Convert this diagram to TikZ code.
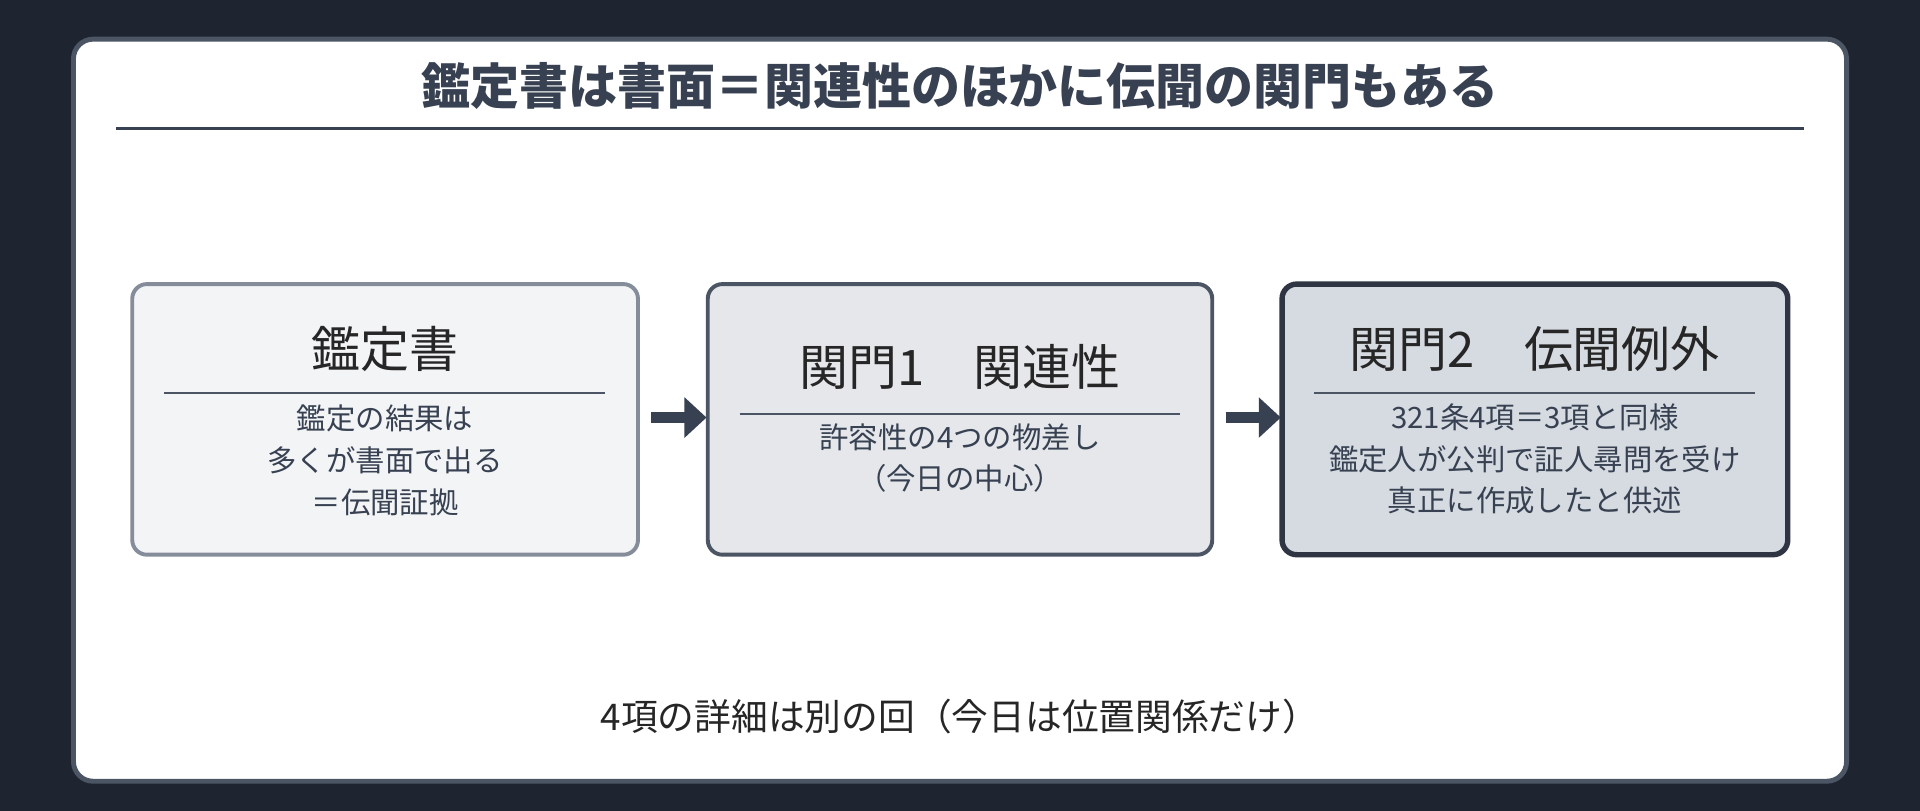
\documentclass[tikz,border=0pt]{standalone}
\usepackage{fontspec}
\setmainfont{Noto Sans CJK JP}
\usetikzlibrary{arrows.meta}
\definecolor{bgdark}{HTML}{1E2530}
\definecolor{ink}{HTML}{374151}
\definecolor{boxA}{HTML}{F3F4F6}
\definecolor{boxB}{HTML}{E5E7EB}
\definecolor{boxC}{HTML}{D6DAE1}
\definecolor{lineA}{HTML}{858D9B}
\definecolor{lineB}{HTML}{4B5563}
\definecolor{lineC}{HTML}{2F3542}
\tikzset{
  stage/.style={draw, rounded corners=6pt, line width=1.6pt},
  head/.style={font=\fontsize{20}{24}\selectfont, text=black!85},
  body/.style={font=\fontsize{12}{17}\selectfont, text=ink, align=center},
  flowarrow/.style={-{Triangle[length=9pt,width=16pt]}, line width=4.5pt, draw=ink}
}
\begin{document}
\begin{tikzpicture}[x=0.5pt, y=-0.5pt]
    \useasboundingbox (0,0) rectangle (1568,662);
    \fill[bgdark] (0,0) rectangle (1568,662);

    % card
    \draw[fill=white, draw=lineB, line width=2pt, rounded corners=8pt] (60,32) rectangle (1508,638);
    \node[font=\fontsize{20}{24}\selectfont\bfseries, text=ink] (title) at (784,70) {鑑定書は書面＝関連性のほかに伝聞の関門もある};
    \draw[ink, line width=1.2pt] (95,105) -- (1473,105);

    % stages
    \draw[stage, fill=boxA, draw=lineA] (108,232) rectangle (521,453);
    \node[head] (dochead) at (314.5,285) {鑑定書};
    \draw[lineB, line width=1pt] (134,321) -- (494,321);
    \node[body] (docbody) at (314.5,376) {鑑定の結果は\\多くが書面で出る\\＝伝聞証拠};

    \draw[stage, fill=boxB, draw=lineB] (578,232) rectangle (990,453);
    \node[head] (gateonehead) at (784,300) {関門1\quad 関連性};
    \draw[lineB, line width=1pt] (604,338) -- (964,338);
    \node[body] (gateonebody) at (784,374) {許容性の4つの物差し\\（今日の中心）};

    \draw[stage, fill=boxC, draw=lineC, line width=2.2pt] (1047,232) rectangle (1460,453);
    \node[head] (gatetwohead) at (1253.5,285) {関門2\quad 伝聞例外};
    \draw[lineB, line width=1pt] (1073,321) -- (1433,321);
    \node[body] (gatetwobody) at (1253.5,375) {321条4項＝3項と同様\\鑑定人が公判で証人尋問を受け\\真正に作成したと供述};

    % arrows
    \coordinate (a1s) at (532,341);
    \coordinate (a1e) at (577,341);
    \coordinate (a2s) at (1001,341);
    \coordinate (a2e) at (1046,341);
    \draw[flowarrow] (a1s) -- (a1e);
    \draw[flowarrow] (a2s) -- (a2e);

    \node[font=\fontsize{15}{18}\selectfont, text=black!85] (note) at (784,585) {4項の詳細は別の回（今日は位置関係だけ）};
\end{tikzpicture}
\end{document}
